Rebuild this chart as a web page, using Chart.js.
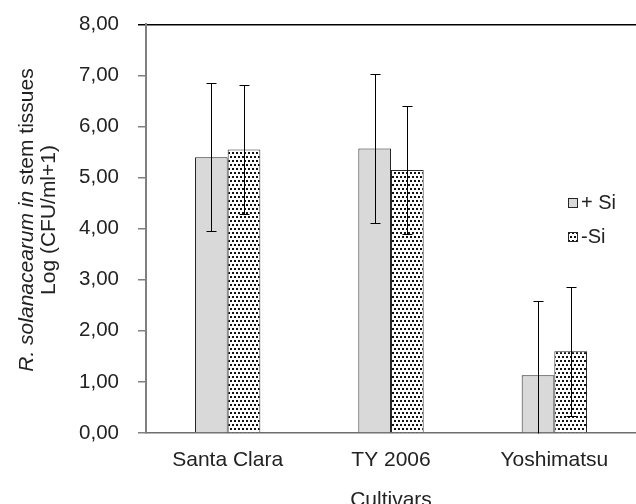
<!DOCTYPE html>
<html>
<head>
<meta charset="utf-8">
<script src="https://cdn.jsdelivr.net/npm/chart.js@4"></script>
<style>
  html, body { margin: 0; padding: 0; background: #fff; }
  #wrap { width: 636px; height: 504px; }
</style>
</head>
<body>
<div id="wrap"><canvas id="bacteriaChart" width="636" height="504"></canvas></div>
<script>
// data
var cultivars = ['Santa Clara', 'TY 2006', 'Yoshimatsu'];
var seriesNames = ['+ Si', '-Si'];
var plusSi = [5.40, 5.57, 1.13];
var minusSi = [5.55, 5.15, 1.60];
var plusSiErr = [1.45, 1.45, 1.45];
var minusSiErr = [1.26, 1.26, 1.26];
var yTicks = [0, 1, 2, 3, 4, 5, 6, 7, 8];

var FONT = 'Liberation Sans, Arial, sans-serif';

// dotted fill for the -Si bars
function makeDots() {
    var tile = document.createElement('canvas');
    tile.width = 8;
    tile.height = 8;
    var t = tile.getContext('2d');
    t.fillStyle = '#ffffff';
    t.fillRect(0, 0, 8, 8);
    t.fillStyle = '#111111';
    t.fillRect(0, 0, 2, 2);
    t.fillRect(4, 0, 2, 2);
    t.fillRect(2, 4, 2, 2);
    t.fillRect(6, 4, 2, 2);
    return t.createPattern(tile, 'repeat');
}

document.addEventListener('DOMContentLoaded', function () {
    var ctx = document.getElementById('bacteriaChart').getContext('2d');
    var dots = makeDots();
    var errors = [plusSiErr, minusSiErr];

    // error bars drawn from the data and the y scale
    var errorBars = {
        id: 'errorBars',
        afterDatasetsDraw: function (chart) {
            var c = chart.ctx;
            var y = chart.scales.y;
            c.save();
            c.strokeStyle = '#000';
            c.lineWidth = 1;
            chart.data.datasets.forEach(function (ds, i) {
                var meta = chart.getDatasetMeta(i);
                meta.data.forEach(function (bar, j) {
                    var v = ds.data[j], e = errors[i][j];
                    var x = Math.round(bar.x) + 0.5;
                    var low = v - e;
                    var yTop = Math.round(y.getPixelForValue(v + e)) + 0.5;
                    var yBot = Math.round(y.getPixelForValue(Math.max(0, low))) + 0.5;
                    c.beginPath();
                    c.moveTo(x, yTop);
                    c.lineTo(x, yBot);
                    c.moveTo(x - 5, yTop);
                    c.lineTo(x + 5, yTop);
                    if (low > 0) {
                        c.moveTo(x - 5, yBot);
                        c.lineTo(x + 5, yBot);
                    }
                    c.stroke();
                });
            });
            c.restore();
        }
    };

    // y title with italic species name, plus the small legend inside the plot
    var extras = {
        id: 'extras',
        afterDraw: function (chart) {
            var c = chart.ctx;
            c.save();
            c.fillStyle = '#222';
            c.textBaseline = 'alphabetic';
            var ital = 'italic 21px ' + FONT;
            var norm = '21px ' + FONT;
            var p1 = 'R. solanacearum in', p2 = ' stem tissues';
            c.font = ital;
            var w1 = c.measureText(p1).width;
            c.font = norm;
            var w2 = c.measureText(p2).width;
            c.translate(33, 220);
            c.rotate(-Math.PI / 2);
            var sx = -(w1 + w2) / 2;
            c.font = ital;
            c.fillText(p1, sx, 0);
            c.font = norm;
            c.fillText(p2, sx + w1, 0);
            c.textAlign = 'center';
            c.fillText('Log (CFU/ml+1)', 0, 21.5);
            c.restore();

            // legend
            c.save();
            c.font = '20px ' + FONT;
            c.fillStyle = '#222';
            c.textBaseline = 'alphabetic';
            var rows = [{ y: 198, base: 209 }, { y: 232, base: 243 }];
            chart.data.datasets.forEach(function (ds, i) {
                var r = rows[i];
                c.fillStyle = ds.backgroundColor;
                c.fillRect(568, r.y, 9, 9);
                c.strokeStyle = '#262626';
                c.lineWidth = 1;
                c.strokeRect(568.5, r.y + 0.5, 9, 9);
                c.fillStyle = '#222';
                c.fillText(ds.label, 581, r.base);
            });
            c.restore();
        }
    };

    new Chart(ctx, {
        type: 'bar',
        data: {
            labels: cultivars,
            datasets: [{
                label: seriesNames[0],
                data: plusSi,
                backgroundColor: '#d9d9d9',
                borderColor: '#262626',
                borderWidth: 1
            }, {
                label: seriesNames[1],
                data: minusSi,
                backgroundColor: dots,
                borderColor: '#262626',
                borderWidth: 1
            }]
        },
        options: {
            responsive: false,
            animation: false,
            layout: { padding: 0 },
            datasets: {
                bar: { categoryPercentage: 0.4, barPercentage: 1.0 }
            },
            plugins: {
                legend: { display: false },
                tooltip: { enabled: false }
            },
            scales: {
                x: {
                    grid: { display: false, drawTicks: false },
                    border: { display: true, color: '#6e6e6e', width: 1.5 },
                    ticks: {
                        color: '#222',
                        font: { family: FONT, size: 21 },
                        padding: 15
                    },
                    title: {
                        display: true,
                        text: 'Cultivars',
                        color: '#222',
                        font: { family: FONT, size: 21, lineHeight: 1 },
                        padding: { top: 0, bottom: -7 }
                    },
                    afterFit: function (scale) { scale.height = 71; }
                },
                y: {
                    min: 0,
                    max: 8,
                    afterBuildTicks: function (scale) {
                        scale.ticks = yTicks.map(function (v) { return { value: v }; });
                    },
                    grid: {
                        drawOnChartArea: true,
                        tickLength: 8,
                        lineWidth: 1.5,
                        tickWidth: 1.5,
                        color: function (c) { return c.tick && c.tick.value === 8 ? '#000' : 'rgba(0,0,0,0)'; },
                        tickColor: function (c) { return c.tick && c.tick.value === 8 ? '#000' : '#808080'; }
                    },
                    border: { display: true, color: '#808080', width: 2 },
                    ticks: {
                        color: '#222',
                        // small lineHeight keeps the top label from pushing the plot down
                        font: { family: FONT, size: 20.5, lineHeight: 0.52 },
                        padding: 19,
                        callback: function (v) { return Number(v).toFixed(2).replace('.', ','); }
                    },
                    afterFit: function (scale) { scale.width = 146; }
                }
            }
        },
        plugins: [errorBars, extras]
    });
});
</script>
</body>
</html>
